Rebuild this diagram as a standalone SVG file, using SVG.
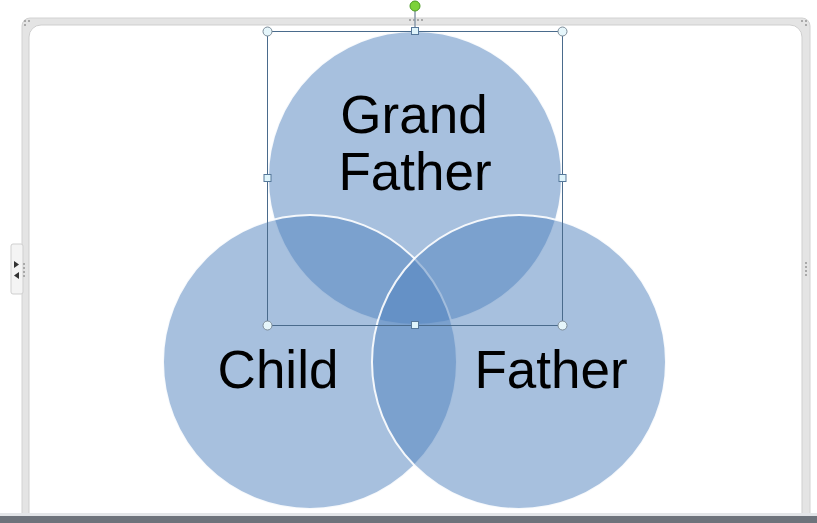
<svg xmlns="http://www.w3.org/2000/svg" width="817" height="523" viewBox="0 0 817 523">
<style>
.lbl{font-family:"Liberation Sans",Arial,sans-serif;font-size:53px;fill:#000;text-anchor:middle}
.circ{fill:#4f81bd;fill-opacity:0.5;stroke:#fff;stroke-width:2;stroke-opacity:0.9}
.hc{fill:#e6f6fb;stroke:#7d8c99;stroke-width:1}
.hs{fill:#dff4fb;stroke:#56789a;stroke-width:1}
.dot{fill:#a9a9a9}
</style>
<rect x="0" y="0" width="817" height="523" fill="#ffffff"/>
<!-- frame -->
<g id="frame">
<rect x="22" y="18" width="788" height="520" rx="8" fill="#e4e4e4" stroke="#d2d2d2" stroke-width="1"/>
<rect x="29" y="25" width="773" height="520" rx="12" fill="#ffffff" stroke="#cfcfcf" stroke-width="1"/>
<g class="dot">
<rect x="24" y="20" width="2" height="2"/><rect x="28" y="20" width="2" height="2"/><rect x="24" y="24" width="2" height="2"/>
<rect x="801" y="20" width="2" height="2"/><rect x="805" y="20" width="2" height="2"/><rect x="805" y="24" width="2" height="2"/>
<rect x="409" y="19" width="2" height="2"/><rect x="413" y="19" width="2" height="2"/><rect x="417" y="19" width="2" height="2"/><rect x="421" y="19" width="2" height="2"/>
<rect x="805" y="262" width="2" height="2"/><rect x="805" y="266" width="2" height="2"/><rect x="805" y="270" width="2" height="2"/><rect x="805" y="274" width="2" height="2"/>
</g>
<rect x="11" y="244" width="12" height="50" rx="2" fill="#f4f4f4" stroke="#cfcfcf"/>
<polygon points="14,261 19,264.5 14,268" fill="#333"/>
<polygon points="19,272 14,275.5 19,279" fill="#333"/>
<g class="dot">
<rect x="23" y="263" width="2" height="2"/><rect x="23" y="267" width="2" height="2"/><rect x="23" y="271" width="2" height="2"/><rect x="23" y="275" width="2" height="2"/>
</g>
<rect x="0" y="513" width="817" height="4" fill="#e3e5e8"/>
<rect x="0" y="516" width="817" height="7" fill="#6e737b"/>
</g>
<!-- circles -->
<g id="grandfather">
<circle class="circ" cx="415" cy="178" r="147"/>
</g>
<g id="child">
<circle class="circ" cx="310" cy="362" r="147"/>
</g>
<g id="father">
<circle class="circ" cx="519" cy="362" r="147"/>
</g>
<g id="labels">
<text class="lbl" x="414" y="133">Grand</text>
<text class="lbl" x="415" y="190">Father</text>
<text class="lbl" x="278" y="388">Child</text>
<text class="lbl" x="551" y="388">Father</text>
</g>
<!-- selection box -->
<g id="selection">
<line x1="415" y1="11" x2="415" y2="31" stroke="#8a9aaa" stroke-width="1.5"/>
<circle cx="415" cy="6" r="5" fill="#7cd23a" stroke="#4a9a20" stroke-width="1"/>
<rect x="267.5" y="31.5" width="295" height="294" fill="none" stroke="#4a6b8c" stroke-width="1"/>
<circle class="hc" cx="267.5" cy="31.5" r="4.5"/>
<circle class="hc" cx="562.5" cy="31.5" r="4.5"/>
<circle class="hc" cx="267.5" cy="325.5" r="4.5"/>
<circle class="hc" cx="562.5" cy="325.5" r="4.5"/>
<rect class="hs" x="411.5" y="27.5" width="7" height="7"/>
<rect class="hs" x="411.5" y="321.5" width="7" height="7"/>
<rect class="hs" x="264" y="174.5" width="7" height="7"/>
<rect class="hs" x="559" y="174.5" width="7" height="7"/>
</g>
</svg>
